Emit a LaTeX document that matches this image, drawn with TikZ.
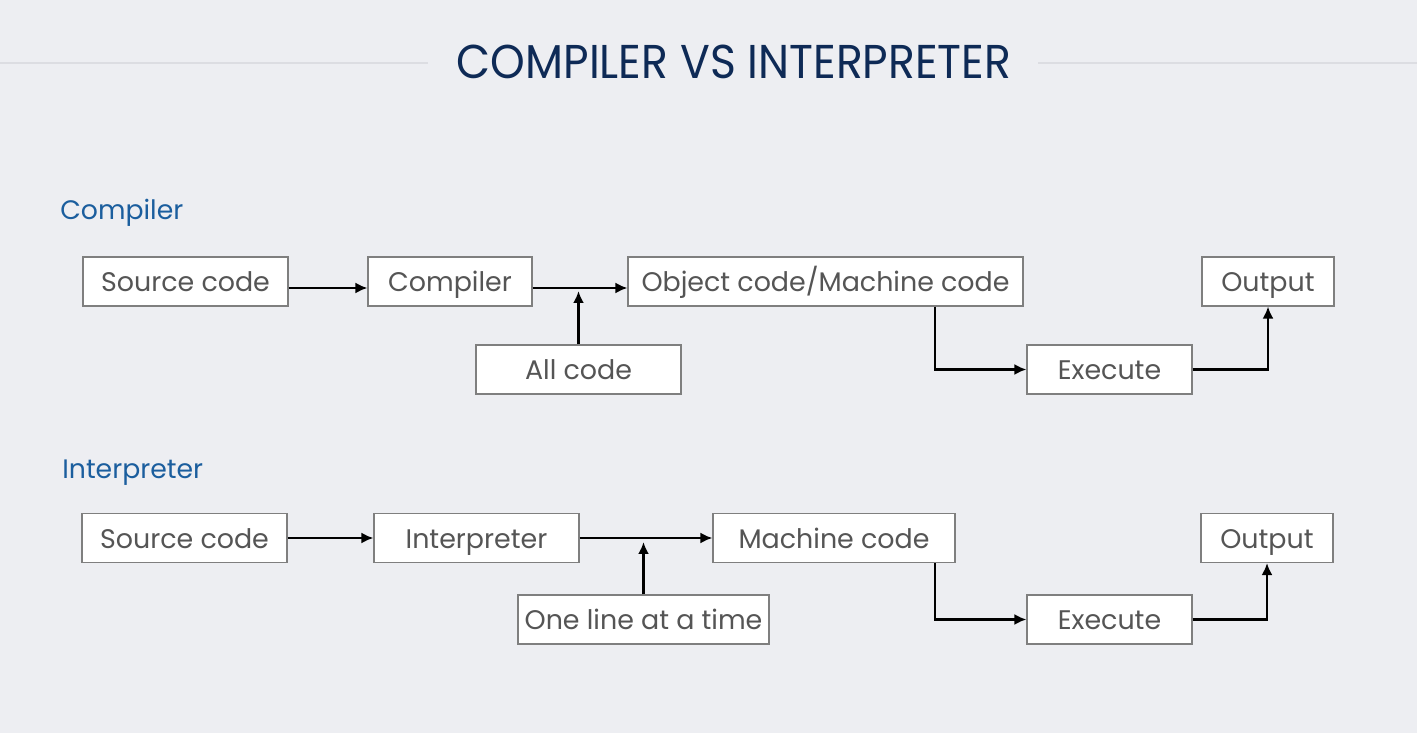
\documentclass[tikz,border=0pt]{standalone}
\usepackage{fontspec}
\setmainfont{Poppins}
\newfontfamily\titlefont[FakeStretch=0.93]{Poppins}
\usetikzlibrary{arrows.meta, positioning, calc}
\definecolor{slidebg}{HTML}{EDEEF2}
\definecolor{ruleline}{HTML}{DCDDE2}
\definecolor{titlenavy}{HTML}{0E2A56}
\definecolor{headblue}{HTML}{1B5E9E}
\definecolor{boxtext}{HTML}{555555}
\definecolor{boxborder}{HTML}{7F7F7F}

\tikzset{
  stagebox/.style={draw=boxborder, fill=white, line width=0.6pt, text=boxtext,
    minimum height=0.98cm, inner sep=0pt, text height=2.1ex, text depth=0ex,
    font=\fontsize{15.3}{18}\selectfont},
  flow/.style={-{Latex[length=2.4mm, width=2.2mm]}, line width=1.5pt, black},
  sectionhead/.style={text=headblue, anchor=west, inner sep=0pt,
    font=\fontsize{15.2}{18}\selectfont}
}

\begin{document}
\begin{tikzpicture}
      \fill[slidebg] (0,0) rectangle (28.34,14.66);
      \useasboundingbox (0,0) rectangle (28.34,14.66);

      % title with rules
      \node[text=titlenavy, font=\titlefont\fontsize{27}{30}\selectfont] (title) at (14.68,13.42) {COMPILER VS INTERPRETER};
      \draw[ruleline, line width=1pt] (0,13.4) -- (8.56,13.4);
      \draw[ruleline, line width=1pt] (20.76,13.4) -- (28.34,13.4);

      % compiler
      \node[sectionhead] (hcomp) at (1.2,10.4) {Compiler};

      \node[stagebox, minimum width=4.1cm] (src1) at (3.71,9.03) {Source code};
      \node[stagebox, minimum width=3.28cm] (comp) at (9.0,9.03) {Compiler};
      \node[stagebox, minimum width=7.9cm] (obj) at (16.51,9.03) {Object code/Machine code};
      \node[stagebox, minimum width=2.64cm] (out1) at (25.36,9.03) {Output};
      \node[stagebox, minimum width=4.1cm] (allc) at (11.57,7.27) {All code};
      \node[stagebox, minimum width=3.3cm] (exe1) at (22.19,7.27) {Execute};

      \coordinate (lnA) at ([yshift=-0.13cm]comp.east);
      \draw[flow] ([yshift=-0.13cm]src1.east) -- ([yshift=-0.13cm]comp.west);
      \draw[flow] (lnA) -- ([yshift=-0.13cm]obj.west);
      \draw[flow, shorten >=0.06cm] (allc.north) -- (allc.north |- lnA);
      \draw[flow] ([xshift=2.19cm]obj.south) |- (exe1.west);
      \draw[flow] (exe1.east) -| (out1.south);

      % interpreter
      \node[sectionhead] (hintp) at (1.24,5.2) {Interpreter};

      \node[stagebox, minimum width=4.1cm] (src2) at (3.69,3.9) {Source code};
      \node[stagebox, minimum width=4.1cm] (intp) at (9.53,3.9) {Interpreter};
      \node[stagebox, minimum width=4.84cm] (mach) at (16.68,3.9) {Machine code};
      \node[stagebox, minimum width=2.64cm] (out2) at (25.34,3.9) {Output};
      \node[stagebox, minimum width=5.02cm] (line) at (12.87,2.27) {One line at a time};
      \node[stagebox, minimum width=3.3cm] (exe2) at (22.19,2.27) {Execute};

      \draw[flow] (src2) -- (intp);
      \draw[flow] (intp) -- (mach);
      \draw[flow, shorten >=0.08cm] (line.north) -- (line.north |- intp.east);
      \draw[flow] ([xshift=2.02cm]mach.south) |- (exe2.west);
      \draw[flow] (exe2.east) -| (out2.south);
    \end{tikzpicture}
\end{document}
